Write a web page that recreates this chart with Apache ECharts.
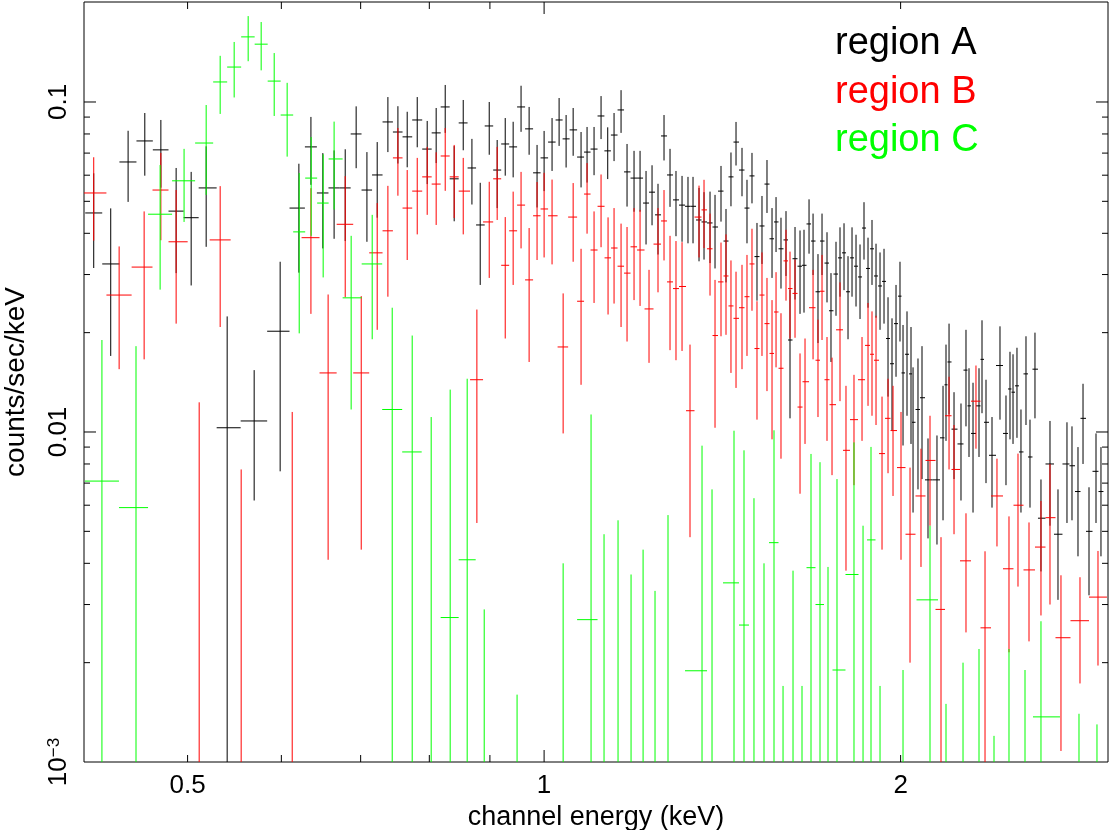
<!DOCTYPE html>
<html>
<head>
<meta charset="utf-8">
<script src="https://cdn.jsdelivr.net/npm/echarts@6/dist/echarts.min.js"></script>
<style>
  html, body { margin: 0; padding: 0; background: #fff; }
  #chart { width: 1110px; height: 830px; }
</style>
</head>
<body>
<div id="chart"></div>
<script>
// region A (black): bin centre in keV, counts/sec/keV, 1-sigma error
var energyA = [0.4166,0.4306,0.4454,0.4601,0.4747,0.4890,0.5035,0.5184,0.5400,0.5691,0.5986,0.6208,0.6355,0.6504,0.6648,0.6793,0.6939,0.7086,0.7229,0.7381,
  0.7526,0.7663,0.7814,0.7967,0.8107,0.8251,0.8396,0.8545,0.8691,0.8832,0.8988,0.9128,0.9272,0.9416,0.9562,0.9713,0.9864,1.0000,1.0156,1.0296,
  1.0437,1.0581,1.0745,1.0871,1.1020,1.1171,1.1317,1.1457,1.1614,1.1750,1.1911,1.2051,1.2192,1.2335,1.2479,1.2626,1.2774,1.2923,1.3076,1.3228,
  1.3358,1.3515,1.3647,1.3807,1.3942,1.4105,1.4243,1.4381,1.4523,1.4693,1.4836,1.4981,1.5127,1.5275,1.5424,1.5576,1.5698,1.5850,1.6005,1.6130,
  1.6288,1.6447,1.6575,1.6738,1.6869,1.7032,1.7166,1.7333,1.7468,1.7639,1.7777,1.7916,1.8056,1.8197,1.8339,1.8482,1.8626,1.8772,1.8918,1.9066,
  1.9215,1.9365,1.9516,1.9668,1.9822,1.9976,2.0094,2.0250,2.0408,2.0489,2.0687,2.0849,2.1094,2.1465,2.1719,2.1845,2.1974,2.2188,2.2491,2.2711,
  2.2844,2.3023,2.3293,2.3429,2.3612,2.3889,2.4263,2.4547,2.4739,2.4885,2.5077,2.5273,2.5521,2.5720,2.5970,2.6275,2.6740,2.7159,2.7637,2.7908,
  2.8236,2.8513,2.8847,2.9242,2.9526];
var rateA = [0.0461,0.0323,0.0658,0.0762,0.0716,0.0467,0.0446,0.0549,0.0103,0.0108,0.0202,0.0477,0.0731,0.0530,0.0549,0.0549,0.0800,0.0541,0.0601,0.0870,
  0.0811,0.0784,0.0882,0.0720,0.0806,0.0966,0.0585,0.0864,0.0631,0.0424,0.0846,0.0622,0.0746,0.0731,0.0966,0.0829,0.0610,0.0677,0.0756,0.0882,
  0.0773,0.0823,0.0681,0.0705,0.0720,0.0907,0.0711,0.0794,0.0946,0.0614,0.0588,0.0588,0.0494,0.0533,0.0455,0.0789,0.0601,0.0505,0.0487,0.0483,
  0.0483,0.0439,0.0433,0.0430,0.0418,0.0537,0.0379,0.0593,0.0756,0.0622,0.0477,0.0597,0.0340,0.0421,0.0564,0.0385,0.0433,0.0359,0.0382,0.0190,
  0.0335,0.0318,0.0320,0.0427,0.0379,0.0266,0.0379,0.0325,0.0233,0.0301,0.0337,0.0349,0.0266,0.0337,0.0318,0.0295,0.0415,0.0313,0.0359,0.0297,
  0.0277,0.0286,0.0192,0.0161,0.0213,0.0258,0.0151,0.0172,0.0150,0.0107,0.0117,0.0127,0.00716,0.00716,0.0096,0.0139,0.0163,0.0102,0.0092,0.0154,
  0.0120,0.0099,0.0120,0.0166,0.0107,0.0085,0.0159,0.0099,0.0135,0.0132,0.0138,0.0087,0.0150,0.0084,0.0155,0.00548,0.0080,0.0049,0.0080,0.0079,
  0.0066,0.0110,0.0050,0.0076,0.0066];
var errA = [0.0147,0.0153,0.016,0.0164,0.0166,0.0164,0.0168,0.0185,0.0121,0.0046,0.0126,0.0173,0.017,0.017,0.0164,0.017,0.017,0.0164,0.0155,0.0165,
  0.016,0.015,0.0153,0.0156,0.0153,0.016,0.015,0.015,0.0142,0.0145,0.0154,0.0145,0.0148,0.014,0.0154,0.0137,0.0131,0.014,0.0138,0.0146,
  0.014,0.0136,0.013,0.0135,0.012,0.0135,0.0127,0.0132,0.014,0.0132,0.0123,0.0123,0.0124,0.011,0.011,0.0124,0.012,0.0113,0.011,0.011,
  0.011,0.011,0.010,0.0105,0.0105,0.0103,0.0095,0.011,0.0114,0.0104,0.0104,0.0104,0.009,0.0098,0.0103,0.0092,0.0082,0.0087,0.0085,0.008,
  0.0083,0.009,0.009,0.008,0.008,0.008,0.008,0.0078,0.007,0.0076,0.008,0.008,0.0075,0.008,0.0078,0.0075,0.0082,0.0075,0.008,0.0075,
  0.0073,0.0073,0.0064,0.006,0.0066,0.007,0.006,0.006,0.0058,0.005,0.005,0.0055,0.0024,0.0026,0.0042,0.0045,0.005,0.003,0.003,0.005,
  0.0036,0.0042,0.0036,0.0052,0.0037,0.0026,0.005,0.003,0.004,0.004,0.0042,0.003,0.0045,0.0025,0.0045,0.0017,0.0028,0.0018,0.0027,0.0025,
  0.0024,0.003,0.0018,0.0023,0.0024];

// region B (red)
var energyB = [0.4166,0.4377,0.4595,0.4747,0.4890,0.5114,0.5327,0.5549,0.6128,0.6355,0.6571,0.6793,0.7008,0.7229,0.7381,0.7526,0.7663,0.7814,0.7967,0.8107,
  0.8251,0.8396,0.8545,0.8775,0.8988,0.9128,0.9272,0.9416,0.9562,0.9713,0.9864,1.0000,1.0156,1.0377,1.0581,1.0745,1.0871,1.1020,1.1171,1.1324,
  1.1457,1.1614,1.1750,1.1911,1.2051,1.2263,1.2479,1.2626,1.2774,1.2923,1.3076,1.3280,1.3515,1.3647,1.3807,1.3942,1.4105,1.4243,1.4381,1.4523,
  1.4693,1.4836,1.4981,1.5127,1.5275,1.5424,1.5576,1.5698,1.5850,1.6005,1.6130,1.6288,1.6447,1.6608,1.6869,1.7032,1.7166,1.7333,1.7503,1.7777,
  1.7985,1.8267,1.8554,1.8772,1.8918,1.9066,1.9290,1.9516,1.9707,2.0015,2.0369,2.0808,2.1176,2.1634,2.1974,2.2188,2.2711,2.3156,2.3567,2.4121,
  2.4691,2.5127,2.5671,2.6275,2.6740,2.7317,2.8346,2.9355];
var rateB = [0.0530,0.0260,0.0316,0.0541,0.0377,0.0005,0.0382,0.0005,0.0005,0.0388,0.0151,0.0426,0.0151,0.0349,0.0407,0.0677,0.0477,0.0537,0.0593,0.0564,
  0.0686,0.0593,0.0537,0.0144,0.0433,0.0585,0.0320,0.0407,0.0487,0.0289,0.0452,0.0474,0.0452,0.0181,0.0448,0.0249,0.0526,0.0356,0.0483,0.0337,
  0.0361,0.0318,0.0303,0.0364,0.0356,0.0236,0.0371,0.0436,0.0285,0.0272,0.0276,0.0116,0.0448,0.0471,0.0359,0.0196,0.0285,0.0297,0.0241,0.0221,
  0.0238,0.0257,0.0323,0.0179,0.0260,0.0213,0.0173,0.0231,0.0156,0.0330,0.0272,0.0263,0.0119,0.0142,0.0238,0.0165,0.0267,0.0144,0.0121,0.0204,
  0.0088,0.0109,0.0144,0.0183,0.0172,0.0165,0.0086,0.0110,0.0101,0.0078,0.0049,0.0064,0.0082,0.0029,0.0112,0.0077,0.00407,0.0124,0.00255,0.0064,
  0.00385,0.0060,0.00382,0.00448,0.0055,0.00238,0.00268,0.00316];
var errB = [0.015,0.0105,0.015,0.016,0.0164,0.0118,0.0174,0.0072,0.011,0.016,0.011,0.017,0.0107,0.0145,0.015,0.0157,0.0145,0.014,0.0138,0.014,
  0.0148,0.0148,0.014,0.0091,0.014,0.0146,0.0128,0.0128,0.0127,0.0126,0.012,0.0136,0.013,0.0082,0.012,0.011,0.0127,0.011,0.012,0.011,
  0.0116,0.011,0.0115,0.0113,0.0115,0.0074,0.0106,0.0105,0.0108,0.0107,0.010,0.0068,0.011,0.011,0.010,0.0093,0.009,0.010,0.009,0.0085,
  0.0083,0.0087,0.009,0.007,0.009,0.008,0.0078,0.0074,0.0073,0.008,0.008,0.007,0.0054,0.005,0.0072,0.0054,0.0077,0.005,0.0047,0.008,
  0.005,0.004,0.005,0.0063,0.006,0.006,0.0042,0.0035,0.0037,0.0037,0.0029,0.0025,0.003,0.0019,0.0035,0.0028,0.0016,0.0035,0.0018,0.0019,
  0.0017,0.0026,0.0015,0.0017,0.0025,0.0013,0.00095,0.0012];

// region C (green)
var energyC = [0.4233,0.4523,0.4740,0.4966,0.5184,0.5327,0.5474,0.5625,0.5769,0.5917,0.6068,0.6212,0.6358,0.6508,0.6648,0.6872,0.7159,0.7443,0.7738,0.8029,
  0.8331,0.8611,0.8901,0.9488,1.0377,1.0956,1.1236,1.1546,1.1842,1.2122,1.2407,1.2724,1.3594,1.3861,1.4466,1.4750,1.5039,1.5335,1.5636,1.5913,
  1.6225,1.6511,1.6802,1.7099,1.7367,1.7673,1.8267,1.8591,1.8881,1.9215,2.0094,2.1176,2.1845,2.2580,2.3293,2.3982,2.4691,2.5472,2.6275,2.8291,
  2.9297];
var rateC = [0.0071,0.0059,0.0457,0.0577,0.0751,0.1150,0.1276,0.1575,0.1497,0.1157,0.0913,0.0404,0.0588,0.0494,0.0672,0.0255,0.0323,0.0117,0.0087,0.0005,
  0.00274,0.0041,0.0005,0.0005,0.0005,0.0027,0.0005,0.0005,0.0005,0.0005,0.0005,0.0005,0.00189,0.0005,0.00349,0.0026,0.0005,0.0005,0.00462,0.0005,
  0.0005,0.0005,0.00388,0.0030,0.0005,0.0019,0.0037,0.0005,0.00471,0.0005,0.0005,0.0031,0.0005,0.0005,0.0005,0.0005,0.0005,0.0005,0.00137,0.0005,
  0.0005];
var errC = [0.0119,0.0123,0.0187,0.0144,0.0228,0.023,0.0244,0.0246,0.025,0.025,0.023,0.0205,0.0195,0.020,0.020,0.0138,0.0132,0.0121,0.0109,0.0106,
  0.0107,0.0104,0.0024,0.0011,0.0035,0.0086,0.0044,0.0049,0.0032,0.0039,0.0028,0.0051,0.0072,0.0062,0.0066,0.0062,0.0058,0.0035,0.0055,0.0012,
  0.0033,0.0012,0.0047,0.0051,0.0034,0.0053,0.0056,0.0047,0.0043,0.0012,0.0014,0.0021,0.001,0.0015,0.0017,0.0007,0.0017,0.0014,0.0013,0.0009,
  0.0008];

var seriesNames = ['region A', 'region B', 'region C'];
var seriesColors = ['#000000', '#ff0000', '#00ff00'];

// axes
var xRange = [0.4088, 2.9932];
var yRange = [0.001, 0.2009];
var xLabelValues = [0.5, 1, 2];
var xMajorTicks = [1];
var xMinorTicks = [0.5, 0.6, 0.7, 0.8, 0.9, 2];
var yLabelValues = [0.001, 0.01, 0.1];
var yMajorTicks = [0.01, 0.1];
var yMinorTicks = [0.002, 0.003, 0.004, 0.005, 0.006, 0.007, 0.008, 0.009,
  0.02, 0.03, 0.04, 0.05, 0.06, 0.07, 0.08, 0.09];

var labelFont = "'Liberation Sans', Arial, sans-serif";

// bins are contiguous: edges halfway (in log) between neighbouring centres
function toBins(energy, rate, err) {
  var out = [];
  var n = energy.length;
  for (var i = 0; i < n; i++) {
    var prev = i > 0 ? energy[i - 1] : energy[i] * energy[i] / energy[i + 1];
    var next = i < n - 1 ? energy[i + 1] : energy[i] * energy[i] / energy[i - 1];
    out.push([energy[i], rate[i], err[i], Math.sqrt(prev * energy[i]), Math.sqrt(energy[i] * next)]);
  }
  return out;
}

function renderErrBar(params, api) {
  var x = api.value(0), y = api.value(1), e = api.value(2);
  var lo = api.value(3), hi = api.value(4);
  var bottom = Math.max(y - e, 1e-6);
  var pTop = api.coord([x, y + e]);
  var pBot = api.coord([x, bottom]);
  var pL = api.coord([lo, y]);
  var pR = api.coord([hi, y]);
  var style = { stroke: api.visual('color'), lineWidth: 1 };
  return {
    type: 'group',
    children: [
      { type: 'line', shape: { x1: pTop[0], y1: pTop[1], x2: pBot[0], y2: pBot[1] }, style: style },
      { type: 'line', shape: { x1: pL[0], y1: pL[1], x2: pR[0], y2: pR[1] }, style: style }
    ]
  };
}

function xTickRenderer(len) {
  return function (params, api) {
    var cs = params.coordSys;
    var px = api.coord([api.value(0), yRange[0]])[0];
    var st = { stroke: '#000', lineWidth: 1 };
    return {
      type: 'group',
      children: [
        { type: 'line', shape: { x1: px, y1: cs.y + cs.height, x2: px, y2: cs.y + cs.height - len }, style: st },
        { type: 'line', shape: { x1: px, y1: cs.y, x2: px, y2: cs.y + len }, style: st }
      ]
    };
  };
}

function yTickRenderer(len) {
  return function (params, api) {
    var cs = params.coordSys;
    var py = api.coord([xRange[0], api.value(1)])[1];
    var st = { stroke: '#000', lineWidth: 1 };
    return {
      type: 'group',
      children: [
        { type: 'line', shape: { x1: cs.x, y1: py, x2: cs.x + len, y2: py }, style: st },
        { type: 'line', shape: { x1: cs.x + cs.width, y1: py, x2: cs.x + cs.width - len, y2: py }, style: st }
      ]
    };
  };
}

var spectra = [toBins(energyA, rateA, errA), toBins(energyB, rateB, errB), toBins(energyC, rateC, errC)];

var series = spectra.map(function (d, i) {
  return {
    name: seriesNames[i],
    type: 'custom',
    renderItem: renderErrBar,
    clip: true,
    itemStyle: { color: seriesColors[i] },
    encode: { x: 0, y: 1 },
    data: d,
    z: 2 + i
  };
});

series.push(
  { type: 'custom', renderItem: xTickRenderer(12), data: xMajorTicks.map(function (v) { return [v, yRange[0]]; }), encode: { x: 0, y: 1 }, z: 10, silent: true },
  { type: 'custom', renderItem: xTickRenderer(7), data: xMinorTicks.map(function (v) { return [v, yRange[0]]; }), encode: { x: 0, y: 1 }, z: 10, silent: true },
  { type: 'custom', renderItem: yTickRenderer(12), data: yMajorTicks.map(function (v) { return [xRange[0], v]; }), encode: { x: 0, y: 1 }, z: 10, silent: true },
  { type: 'custom', renderItem: yTickRenderer(6), data: yMinorTicks.map(function (v) { return [xRange[0], v]; }), encode: { x: 0, y: 1 }, z: 10, silent: true }
);

var chart = echarts.init(document.getElementById('chart'));

var option = {
  animation: false,
  backgroundColor: '#ffffff',
  grid: {
    left: 84, right: 2, top: 2, bottom: 68,
    outerBoundsMode: 'none',
    containLabel: false,
    show: true, borderColor: '#000', borderWidth: 1, backgroundColor: 'transparent'
  },
  xAxis: {
    type: 'log',
    logBase: 10,
    min: xRange[0],
    max: xRange[1],
    name: 'channel energy (keV)',
    nameLocation: 'middle',
    nameGap: 37,
    nameTextStyle: { color: '#000', fontSize: 27, fontFamily: labelFont },
    axisLine: { show: false },
    axisTick: { show: false },
    splitLine: { show: false },
    axisLabel: {
      customValues: xLabelValues,
      color: '#000',
      fontSize: 26,
      fontFamily: labelFont,
      margin: 11,
      formatter: function (v) { return String(Math.round(v * 10) / 10); }
    }
  },
  yAxis: {
    type: 'log',
    logBase: 10,
    min: yRange[0],
    max: yRange[1],
    name: 'counts/sec/keV',
    nameLocation: 'middle',
    nameRotate: 90,
    nameGap: 54,
    nameTextStyle: { color: '#000', fontSize: 28, fontFamily: labelFont },
    axisLine: { show: false },
    axisTick: { show: false },
    splitLine: { show: false },
    axisLabel: {
      customValues: yLabelValues,
      rotate: 90,
      color: '#000',
      fontSize: 26,
      fontFamily: labelFont,
      margin: 12,
      formatter: function (v) {
        var p = Math.round(Math.log10(v));
        if (p <= -3) return '{m|10}{e|\u2212' + (-p) + '}';
        return String(Math.pow(10, p).toFixed(-p));
      },
      rich: {
        m: { fontSize: 26, fontFamily: labelFont, color: '#000' },
        e: { fontSize: 17, fontFamily: labelFont, color: '#000', verticalAlign: 'top' }
      }
    }
  },
  graphic: seriesNames.map(function (name, i) {
    return {
      type: 'text',
      x: 835,
      y: 44 + i * 48.5,
      z: 20,
      style: { text: name, fill: seriesColors[i], fontSize: 38, fontFamily: labelFont, verticalAlign: 'middle' }
    };
  }),
  series: series
};

chart.setOption(option);
</script>
</body>
</html>
